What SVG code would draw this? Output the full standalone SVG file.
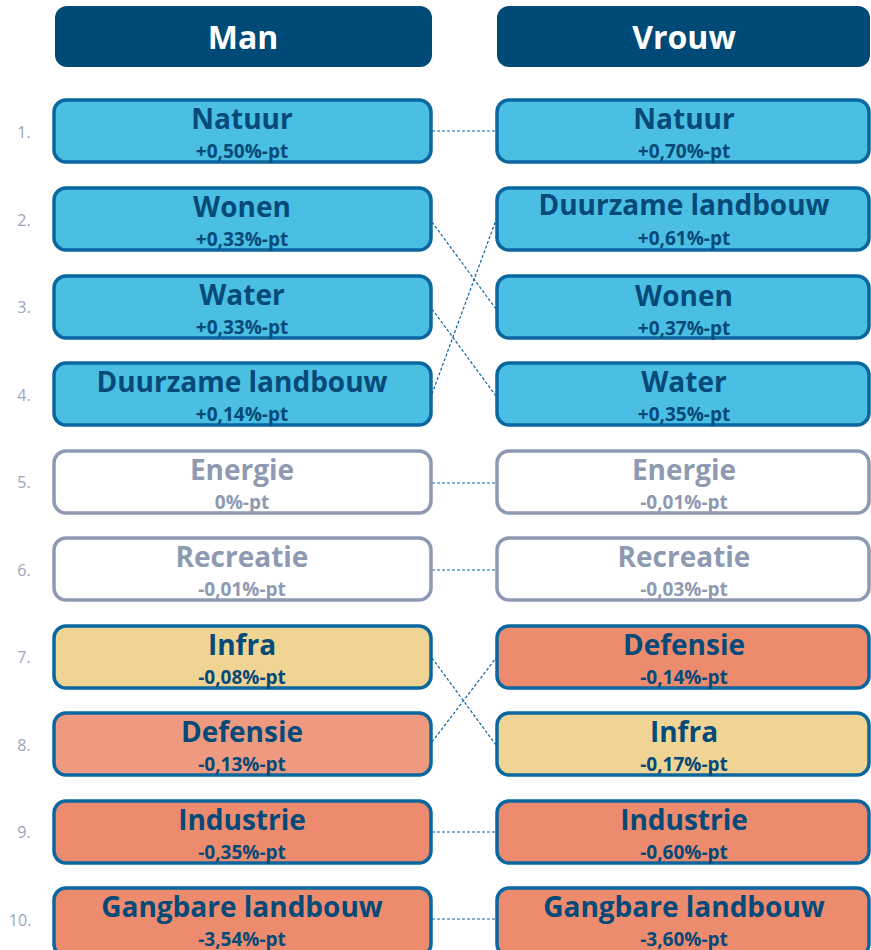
<svg xmlns="http://www.w3.org/2000/svg" width="871" height="950" viewBox="0 0 871 950">
<style>
.hdr{fill:#004a77}
.ht{font-family:"Open Sans","Liberation Sans",sans-serif;font-weight:bold;font-size:32px;fill:#fff;text-anchor:middle}
.box{stroke:#0a67a0;stroke-width:3.5}
.blue{fill:#4bbee3}
.gray{fill:#fff;stroke:#8e9ab2}
.yel{fill:#efd494}
.sal{fill:#ee9a80}
.ora{fill:#ec8b6e}
.t{font-family:"Open Sans","Liberation Sans",sans-serif;font-weight:bold;font-size:28px;fill:#054a78;text-anchor:middle}
.v{font-family:"Open Sans","Liberation Sans",sans-serif;font-weight:bold;font-size:19px;fill:#054a78;text-anchor:middle}
.g{fill:#8e9ab2}
.n{font-family:"Open Sans","Liberation Sans",sans-serif;font-size:16px;fill:#9aa5bb;text-anchor:middle}
.c{stroke:#0a67a0;stroke-width:1.2;stroke-dasharray:3,2;fill:none}
</style>
<g id="hdr-man"><rect class="hdr" x="55" y="6" width="377" height="61" rx="12"/><text class="ht" x="243" y="49">Man</text></g>
<g id="hdr-vrouw"><rect class="hdr" x="497" y="6" width="373" height="61" rx="12"/><text class="ht" x="684" y="49">Vrouw</text></g>
<g id="nums">
<text class="n" x="24" y="138">1.</text>
<text class="n" x="24" y="226">2.</text>
<text class="n" x="24" y="313">3.</text>
<text class="n" x="24" y="401">4.</text>
<text class="n" x="24" y="488">5.</text>
<text class="n" x="24" y="576">6.</text>
<text class="n" x="24" y="663">7.</text>
<text class="n" x="24" y="751">8.</text>
<text class="n" x="24" y="838">9.</text>
<text class="n" x="20" y="926">10.</text>
</g>
<g id="connectors">
<line class="c" x1="432" y1="131" x2="496" y2="131"/>
<line class="c" x1="432" y1="222" x2="496" y2="309"/>
<line class="c" x1="432" y1="309" x2="496" y2="396"/>
<line class="c" x1="432" y1="394" x2="496" y2="220"/>
<line class="c" x1="432" y1="483" x2="496" y2="483"/>
<line class="c" x1="432" y1="570" x2="496" y2="570"/>
<line class="c" x1="432" y1="658" x2="496" y2="745"/>
<line class="c" x1="432" y1="742" x2="496" y2="658"/>
<line class="c" x1="432" y1="832" x2="496" y2="832"/>
<line class="c" x1="432" y1="919" x2="496" y2="919"/>
</g>
<g id="m1"><rect class="box blue" x="54" y="100" width="377" height="62" rx="12"/><text class="t" x="242" y="129">Natuur</text><text class="v" x="242" y="158">+0,50%-pt</text></g>
<g id="m2"><rect class="box blue" x="54" y="188" width="377" height="62" rx="12"/><text class="t" x="242" y="217">Wonen</text><text class="v" x="242" y="246">+0,33%-pt</text></g>
<g id="m3"><rect class="box blue" x="54" y="276" width="377" height="62" rx="12"/><text class="t" x="242" y="305">Water</text><text class="v" x="242" y="334">+0,33%-pt</text></g>
<g id="m4"><rect class="box blue" x="54" y="363" width="377" height="62" rx="12"/><text class="t" x="242" y="392">Duurzame landbouw</text><text class="v" x="242" y="421">+0,14%-pt</text></g>
<g id="m5"><rect class="box gray" x="54" y="451" width="377" height="62" rx="12"/><text class="t g" x="242" y="480">Energie</text><text class="v g" x="242" y="509">0%-pt</text></g>
<g id="m6"><rect class="box gray" x="54" y="538" width="377" height="62" rx="12"/><text class="t g" x="242" y="567">Recreatie</text><text class="v g" x="242" y="596">-0,01%-pt</text></g>
<g id="m7"><rect class="box yel" x="54" y="626" width="377" height="62" rx="12"/><text class="t" x="242" y="655">Infra</text><text class="v" x="242" y="684">-0,08%-pt</text></g>
<g id="m8"><rect class="box sal" x="54" y="713" width="377" height="62" rx="12"/><text class="t" x="242" y="742">Defensie</text><text class="v" x="242" y="771">-0,13%-pt</text></g>
<g id="m9"><rect class="box ora" x="54" y="801" width="377" height="62" rx="12"/><text class="t" x="242" y="830">Industrie</text><text class="v" x="242" y="859">-0,35%-pt</text></g>
<g id="m10"><rect class="box ora" x="54" y="888" width="377" height="68" rx="12"/><text class="t" x="242" y="917">Gangbare landbouw</text><text class="v" x="242" y="946">-3,54%-pt</text></g>
<g id="v1"><rect class="box blue" x="497" y="100" width="372" height="62" rx="12"/><text class="t" x="684" y="129">Natuur</text><text class="v" x="684" y="158">+0,70%-pt</text></g>
<g id="v2"><rect class="box blue" x="497" y="188" width="372" height="62" rx="12"/><text class="t" x="684" y="215">Duurzame landbouw</text><text class="v" x="684" y="245">+0,61%-pt</text></g>
<g id="v3"><rect class="box blue" x="497" y="276" width="372" height="62" rx="12"/><text class="t" x="684" y="306">Wonen</text><text class="v" x="684" y="335">+0,37%-pt</text></g>
<g id="v4"><rect class="box blue" x="497" y="363" width="372" height="62" rx="12"/><text class="t" x="684" y="392">Water</text><text class="v" x="684" y="421">+0,35%-pt</text></g>
<g id="v5"><rect class="box gray" x="497" y="451" width="372" height="62" rx="12"/><text class="t g" x="684" y="480">Energie</text><text class="v g" x="684" y="509">-0,01%-pt</text></g>
<g id="v6"><rect class="box gray" x="497" y="538" width="372" height="62" rx="12"/><text class="t g" x="684" y="567">Recreatie</text><text class="v g" x="684" y="596">-0,03%-pt</text></g>
<g id="v7"><rect class="box ora" x="497" y="626" width="372" height="62" rx="12"/><text class="t" x="684" y="655">Defensie</text><text class="v" x="684" y="684">-0,14%-pt</text></g>
<g id="v8"><rect class="box yel" x="497" y="713" width="372" height="62" rx="12"/><text class="t" x="684" y="742">Infra</text><text class="v" x="684" y="771">-0,17%-pt</text></g>
<g id="v9"><rect class="box ora" x="497" y="801" width="372" height="62" rx="12"/><text class="t" x="684" y="830">Industrie</text><text class="v" x="684" y="859">-0,60%-pt</text></g>
<g id="v10"><rect class="box ora" x="497" y="888" width="372" height="68" rx="12"/><text class="t" x="684" y="917">Gangbare landbouw</text><text class="v" x="684" y="946">-3,60%-pt</text></g>
</svg>
